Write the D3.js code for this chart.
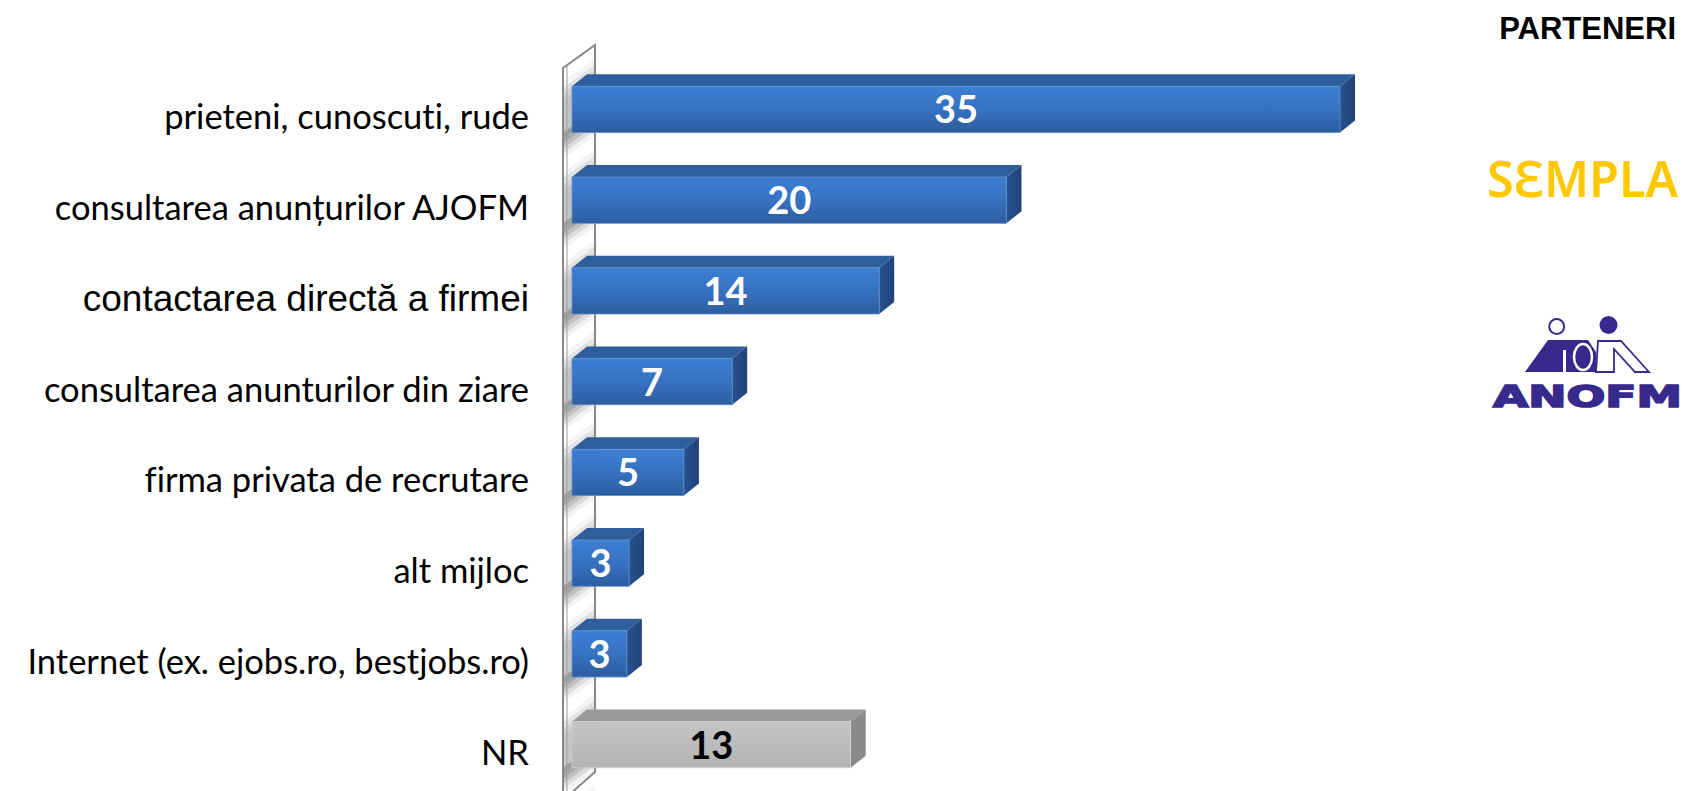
<!DOCTYPE html>
<html>
  <head>
    <meta charset="utf-8">
    <style>
      body { margin: 0; background: #fff; }
      svg { display: block; }
      .cat { font-family: Lato, sans-serif; font-size: 34.5px; fill: #000; font-variant-ligatures: none; }
      .cat.arial { font-family: "Liberation Sans", Arial, sans-serif; font-size: 37px; }
      .val { font-family: Lato, sans-serif; font-weight: 700; font-size: 38px; text-anchor: middle; }
    </style>
  </head>
  <body>
    <script src="https://d3js.org/d3.v7.min.js"></script>
    <script>
    var width = 1683, height = 791;

    // categories, top to bottom
    var categories = [
      "prieteni, cunoscuti, rude",
      "consultarea anunțurilor AJOFM",
      "contactarea directă a firmei",
      "consultarea anunturilor din ziare",
      "firma privata de recrutare",
      "alt mijloc",
      "Internet (ex. ejobs.ro, bestjobs.ro)",
      "NR"
    ];
    // percentages
    var values = [35, 19.8, 14.0, 7.3, 5.1, 2.6, 2.5, 12.7];
    // categories drawn in gray instead of blue
    var grayCategories = ["NR"];
    var partners = ["PARTENERI", "SƐMPLA", "ANOFM"];

    var data = categories.map(function(c, i){ return {cat: c, value: values[i]}; });

    var svg = d3.select("body").append("svg")
        .attr("width", width)
        .attr("height", height);

    var defs = svg.append("defs");

    // front face gradients
    var gBlue = defs.append("linearGradient").attr("id", "frontBlue")
        .attr("x1", 0).attr("y1", 0).attr("x2", 0).attr("y2", 1);
    gBlue.append("stop").attr("offset", "0%").attr("stop-color", "#3d7fd3");
    gBlue.append("stop").attr("offset", "55%").attr("stop-color", "#3670bf");
    gBlue.append("stop").attr("offset", "100%").attr("stop-color", "#2c5d9e");

    var gGray = defs.append("linearGradient").attr("id", "frontGray")
        .attr("x1", 0).attr("y1", 0).attr("x2", 0).attr("y2", 1);
    gGray.append("stop").attr("offset", "0%").attr("stop-color", "#c4c4c4");
    gGray.append("stop").attr("offset", "100%").attr("stop-color", "#b4b4b4");

    var gSide = defs.append("linearGradient").attr("id", "sideBlue")
        .attr("x1", 0).attr("y1", 0).attr("x2", 1).attr("y2", 0);
    gSide.append("stop").attr("offset", "0%").attr("stop-color", "#27528f");
    gSide.append("stop").attr("offset", "100%").attr("stop-color", "#1f4378");

    // scales
    var x = d3.scaleLinear().domain([0, 35]).range([572, 1340]);
    var y = d3.scaleBand().domain(categories).range([64, 790])
        .paddingInner(0.49).paddingOuter(0.245);
    var bw = y.bandwidth();
    var dx = 15, dy = 12;   // 3d depth of the bars

    // wall (back plane at the value axis)
    var wL = 563, wR = 595, wTop = 68, slope = 23 / 32;
    var wallPath = "M563,68 L595,45 L595,772 L563,800 Z";

    var wall = svg.append("g");
    wall.append("path").attr("d", wallPath).attr("fill", "#c4c4c4");

    // metallic reflections: diagonal stripes, one run per category gap
    function band(t, h){
      var a = Math.max(t, wTop), b = Math.max(t + h, wTop);
      if (b <= a) return null;
      var rise = (wR - wL) * slope;
      return "M" + wL + "," + a + " L" + wR + "," + (a - rise) +
             " L" + wR + "," + (b - rise) + " L" + wL + "," + b + " Z";
    }
    var stripes = [
      ["#9c9c9c", 6], ["#a8a8a8", 5], ["#c0c0c0", 5], ["#dcdcdc", 5], ["#f2f2f2", 5],
      ["#ffffff", 14], ["#f4f4f4", 6], ["#e2e2e2", 6], ["#d2d2d2", 6]
    ];
    var gaps = [y(categories[0]) - y.step()].concat(categories.map(function(c){ return y(c); }));
    gaps.forEach(function(g0){
      var t = g0 + bw;
      stripes.forEach(function(s){
        var p = band(t, s[1] + 0.6);
        if (p) wall.append("path").attr("d", p).attr("fill", s[0]);
        t += s[1];
      });
    });

    wall.append("path")
        .attr("d", wallPath)
        .attr("fill", "none")
        .attr("stroke", "#888")
        .attr("stroke-width", 2);
    wall.append("line")
        .attr("x1", 567).attr("y1", 66).attr("x2", 567).attr("y2", 800)
        .attr("stroke", "#a0a0a0").attr("stroke-width", 1);

    // bars
    var bars = svg.append("g").selectAll("g")
      .data(data)
      .enter().append("g");

    function isGray(d){ return grayCategories.indexOf(d.cat) >= 0; }

    bars.append("path")   // top face
        .attr("d", function(d){
          var x0 = x(0), x1 = x(d.value), y0 = y(d.cat);
          return "M" + x0 + "," + y0 + " L" + (x0 + dx) + "," + (y0 - dy) +
                 " L" + (x1 + dx) + "," + (y0 - dy) + " L" + x1 + "," + y0 + " Z";
        })
        .attr("fill", function(d){ return isGray(d) ? "#999999" : "#2f5e9d"; });

    bars.append("path")   // side face
        .attr("d", function(d){
          var x1 = x(d.value), y0 = y(d.cat);
          return "M" + x1 + "," + y0 + " L" + (x1 + dx) + "," + (y0 - dy) +
                 " L" + (x1 + dx) + "," + (y0 + bw - dy) + " L" + x1 + "," + (y0 + bw) + " Z";
        })
        .attr("fill", function(d){ return isGray(d) ? "#8a8a8a" : "url(#sideBlue)"; });

    bars.append("rect")   // front face
        .attr("x", x(0))
        .attr("y", function(d){ return y(d.cat); })
        .attr("width", function(d){ return x(d.value) - x(0); })
        .attr("height", bw)
        .attr("fill", function(d){ return isGray(d) ? "url(#frontGray)" : "url(#frontBlue)"; })
        .attr("stroke", function(d){ return isGray(d) ? "#d0d0d0" : "#5f8fcf"; })
        .attr("stroke-width", 0.8);

    bars.append("text")
        .attr("class", "val")
        .attr("x", function(d){ return (x(0) + x(d.value)) / 2; })
        .attr("y", function(d){ return y(d.cat) + bw / 2 + 14; })
        .attr("fill", function(d){ return isGray(d) ? "#000" : "#fff"; })
        .text(function(d){ return Math.round(d.value); });

    // category labels
    svg.append("g").selectAll("text")
      .data(data)
      .enter().append("text")
        .attr("class", function(d){ return d.cat.indexOf("directă") >= 0 ? "cat arial" : "cat"; })
        .attr("x", 529)
        .attr("y", function(d){ return y(d.cat) + bw / 2 + 20; })
        .attr("text-anchor", "end")
        .text(function(d){ return d.cat; });

    // partners column
    svg.append("text")
        .attr("x", 1676).attr("y", 39)
        .attr("text-anchor", "end")
        .style("font-family", "'Liberation Sans', Arial, sans-serif")
        .style("font-weight", "bold")
        .style("font-size", "31px")
        .text(partners[0]);

    svg.append("text")
        .attr("x", 1487).attr("y", 197)
        .attr("textLength", 191)
        .attr("lengthAdjust", "spacingAndGlyphs")
        .style("font-family", "'Noto Sans', sans-serif")
        .style("font-weight", 600)
        .style("font-size", "50px")
        .style("fill", "#ffc800")
        .text(partners[1]);

    // ANOFM logo: two figures above the name
    var logo = svg.append("g").attr("fill", "#38298c").attr("stroke", "#38298c");
    logo.append("circle").attr("cx", 1556.7).attr("cy", 326.5).attr("r", 7.5)
        .attr("fill", "#fff").attr("stroke-width", 2);
    logo.append("circle").attr("cx", 1608.5).attr("cy", 325).attr("r", 9).attr("stroke", "none");
    logo.append("path")
        .attr("d", "M1598,341 L1621,341 L1649,372 L1635,372 L1614,349 L1614,372 L1596,372 Z")
        .attr("fill", "#fff").attr("stroke-width", 1.8);
    logo.append("path")
        .attr("d", "M1525,372 L1548,340 L1588,340 L1596,352 L1596,372 Z")
        .attr("stroke", "none");
    logo.append("rect").attr("x", 1563).attr("y", 350).attr("width", 3).attr("height", 22)
        .attr("fill", "#fff").attr("stroke", "none");
    logo.append("ellipse").attr("cx", 1583).attr("cy", 357).attr("rx", 9).attr("ry", 13)
        .attr("fill", "#38298c").attr("stroke", "#fff").attr("stroke-width", 2.5);
    logo.append("text")
        .attr("x", 1493).attr("y", 407)
        .attr("textLength", 189)
        .attr("lengthAdjust", "spacingAndGlyphs")
        .attr("stroke-width", 1.6)
        .style("font-family", "'DejaVu Sans', sans-serif")
        .style("font-weight", "bold")
        .style("font-size", "30px")
        .text(partners[2]);
    </script>
  </body>
</html>
